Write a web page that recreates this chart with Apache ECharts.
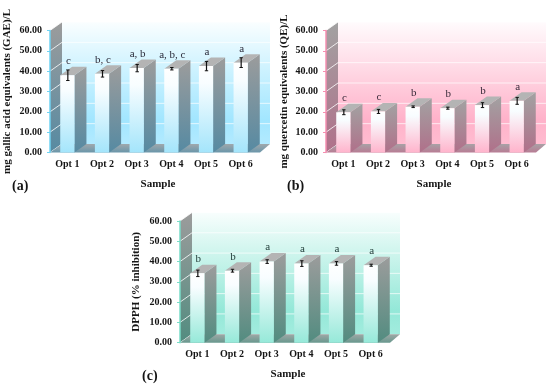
<!DOCTYPE html>
<html><head><meta charset="utf-8">
<style>html,body{margin:0;padding:0;background:#fff}#c{width:550px;height:386px}</style>
<script src="https://cdn.jsdelivr.net/npm/echarts@6/dist/echarts.min.js"></script>
</head><body><div id="c"></div>
<script>
const categories = ['Opt 1','Opt 2','Opt 3','Opt 4','Opt 5','Opt 6'];
const yTicks = [0,10,20,30,40,50,60];
const gaeValues = [38.0,38.7,41.5,41.2,42.5,44.2];
const gaeErrors = [2.6,1.6,1.8,0.6,2.3,2.4];
const gaeLetters = ['c','b, c','a, b','a, b, c','a','a'];
const qeValues = [19.8,20.2,22.5,21.8,23.3,25.4];
const qeErrors = [1.2,1.0,0.4,0.5,1.2,1.7];
const qeLetters = ['c','c','b','b','b','a'];
const dpphValues = [34.2,35.5,40.0,39.0,39.1,38.2];
const dpphErrors = [1.6,0.7,0.9,1.4,0.9,0.5];
const dpphLetters = ['b','b','a','a','a','a'];

const SERIF = '"Liberation Serif","Times New Roman",serif';
const DX = 12, DY = 8.5, WALL_EXTRA = 12;
const G = (stops)=> new echarts.graphic.LinearGradient(0,0,0,1,stops.map((c,i)=>({offset:c[0],color:c[1]})));

const panels = [
 {name:'mg gallic acid equivalents (GAE)/L',values:gaeValues,errors:gaeErrors,letters:gaeLetters,left:50,top:30.5,h:122,nameGap:37,
  tag:'(a)',tagX:12,tagY:187,axis:'#6fd3f3',wall:['#fafeff','#ccf2ff','#a2e6ff','#b2eaff'],bar:'#a4e5fb',side:['#9c9c9c','#568aa2'],floor:['#a0a8ac','#6a96aa'],letterColor:'#2b2b3a'},
 {name:'mg quercetin equivalents (QE)/L',values:qeValues,errors:qeErrors,letters:qeLetters,left:326,top:30.5,h:122,nameGap:36,
  tag:'(b)',tagX:287,tagY:187,axis:'#f48fb1',wall:['#fffbfd','#ffd8e4','#ffb2ca','#ffbcd0'],bar:'#ffb4cc',side:['#a2a2a2','#b0708a'],floor:['#a8a2a6','#b87c94'],letterColor:'#3a2b3a'},
 {name:'DPPH (% inhibition)',values:dpphValues,errors:dpphErrors,letters:dpphLetters,left:180,top:221,h:121.7,nameGap:38,
  tag:'(c)',tagX:142,tagY:377,axis:'#78ddc8',wall:['#f8fefd','#c6f3ea','#94e8d8','#a2ecde'],bar:'#96e9d9',side:['#9c9c9c','#528c80'],floor:['#a0a8a6','#68988e'],letterColor:'#1f3a36'}
];

const grid=[],xAxis=[],yAxis=[],series=[],graphic=[];
panels.forEach((p,i)=>{
  grid.push({left:p.left,top:p.top,width:208,height:p.h,containLabel:false});
  xAxis.push({gridIndex:i,type:'category',data:categories,name:'Sample',nameLocation:'middle',nameGap:26,
    nameTextStyle:{fontFamily:SERIF,fontWeight:'bold',fontSize:11,color:'#151515',padding:[0,0,0,8]},
    axisLine:{show:false},axisTick:{show:false},splitLine:{show:false},
    axisLabel:{fontFamily:SERIF,fontWeight:'bold',fontSize:10,color:'#151515',margin:7,interval:0}});
  yAxis.push({gridIndex:i,type:'value',min:0,max:60,interval:10,name:p.name,nameLocation:'middle',nameGap:p.nameGap,
    nameTextStyle:{fontFamily:SERIF,fontWeight:'bold',fontSize:11,color:'#151515'},
    splitLine:{show:false},
    axisLine:{show:true,onZero:false,lineStyle:{color:p.axis,width:1.5}},
    axisTick:{show:true,length:3,lineStyle:{color:p.axis,width:1}},
    axisLabel:{fontFamily:SERIF,fontWeight:'bold',fontSize:10,color:'#151515',margin:8,formatter:v=>v.toFixed(2)},z:6});

  // walls, floor and grid lines
  series.push({type:'custom',xAxisIndex:i,yAxisIndex:i,clip:false,silent:true,z:1,data:[[0]],
    renderItem(params,api){
      const cs=params.coordSys,x0=cs.x,x1=cs.x+cs.width,y1=cs.y+cs.height,y0=cs.y;
      const kids=[];
      kids.push({type:'polygon',shape:{points:[[x0+DX,y0-DY],[x1+WALL_EXTRA,y0-DY],[x1+WALL_EXTRA,y1-DY],[x0+DX,y1-DY]]},
        style:{fill:G([[0,p.wall[0]],[0.4,p.wall[1]],[0.8,p.wall[2]],[1,p.wall[3]]])}});
      kids.push({type:'polygon',shape:{points:[[x0,y0],[x0+DX,y0-DY],[x0+DX,y1-DY],[x0,y1]]},
        style:{fill:G([[0,p.side[0]],[1,p.side[1]]])}});
      yTicks.forEach(t=>{
        const y=api.coord([0,t])[1];
        if(t>0) kids.push({type:'line',shape:{x1:x0+DX,y1:y-DY,x2:x1+WALL_EXTRA,y2:y-DY},style:{stroke:'rgba(255,255,255,0.7)',lineWidth:1}});
        kids.push({type:'line',shape:{x1:x0,y1:y,x2:x0+DX,y2:y-DY},style:{stroke:'rgba(255,255,255,0.8)',lineWidth:1}});
      });
      kids.push({type:'polygon',shape:{points:[[x0,y1],[x0+DX,y1-DY],[x1+WALL_EXTRA,y1-DY],[x1+2,y1]]},
        style:{fill:G([[0,p.floor[0]],[1,p.floor[1]]])}});
      return {type:'group',children:kids};
    }});

  // 3D bars with error bars and significance letters
  const rows=p.values.map((v,k)=>[k,v,p.errors[k],p.letters[k]]);
  series.push({type:'custom',xAxisIndex:i,yAxisIndex:i,clip:false,silent:true,z:3,
    encode:{x:0,y:1},data:rows,
    renderItem(params,api){
      const k=api.value(0),v=api.value(1),e=api.value(2);
      const top=api.coord([k,v]),base=api.coord([k,0]),hi=api.coord([k,v+e]),lo=api.coord([k,v-e]);
      const w=api.size([1,0])[0]*0.41,l=top[0]-w/2,r=top[0]+w/2,t=top[1],b=base[1];
      const cx=top[0]+0.5;
      return {type:'group',children:[
        {type:'polygon',shape:{points:[[r,t],[r+DX,t-DY],[r+DX,b-DY],[r,b]]},style:{fill:G([[0,p.side[0]],[1,p.side[1]]])}},
        {type:'polygon',shape:{points:[[l,t],[l+DX,t-DY],[r+DX,t-DY],[r,t]]},style:{fill:'#b4b4b4'}},
        {type:'rect',shape:{x:l,y:t,width:w,height:b-t},style:{fill:G([[0,'#ffffff'],[0.2,'#f8fdff'],[1,p.bar]])}},
        {type:'line',shape:{x1:cx,y1:hi[1],x2:cx,y2:lo[1]},style:{stroke:'#111',lineWidth:1.2}},
        {type:'line',shape:{x1:cx-1.7,y1:hi[1],x2:cx+1.7,y2:hi[1]},style:{stroke:'#111',lineWidth:1}},
        {type:'line',shape:{x1:cx-1.7,y1:lo[1],x2:cx+1.7,y2:lo[1]},style:{stroke:'#111',lineWidth:1}},
        {type:'text',style:{x:top[0]+1,y:t-14,text:p.letters[k],fill:p.letterColor,font:'11px '+SERIF,align:'center',verticalAlign:'middle'}}
      ]};
    }});

  graphic.push({type:'text',left:p.tagX,top:p.tagY-8,style:{text:p.tag,fill:'#151515',font:'bold 14px '+SERIF}});
});

const chart=echarts.init(document.getElementById('c'),null,{renderer:'canvas'});
chart.setOption({animation:false,backgroundColor:'#fff',grid,xAxis,yAxis,series,graphic});
</script></body></html>
